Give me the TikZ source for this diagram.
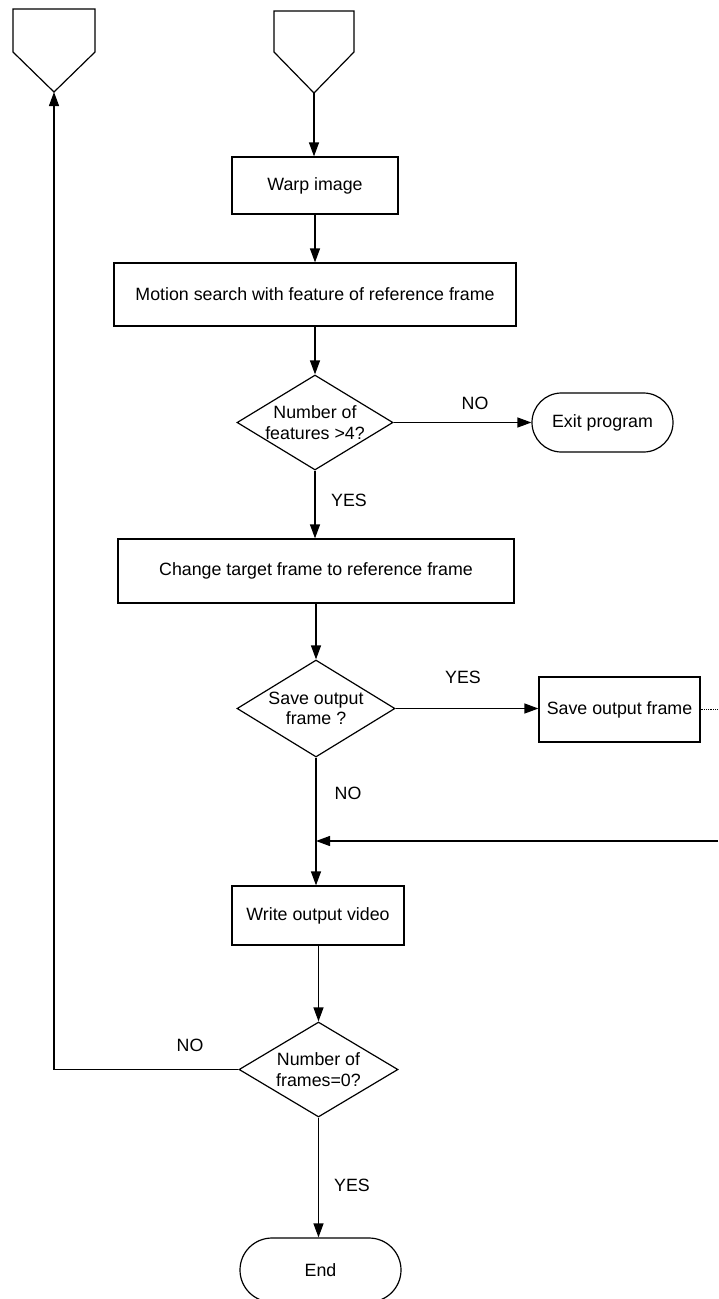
\documentclass[tikz,border=0pt]{standalone}
\usepackage{fontspec}
\setmainfont{Liberation Sans}
\usetikzlibrary{arrows.meta,shapes.geometric}
\begin{document}
\begin{tikzpicture}[x=1pt,y=-1pt,
  line width=1.2pt,
  every node/.style={font=\fontsize{17.8}{20.5}\selectfont},
  procbox/.style={draw,rectangle,inner sep=0pt,align=center},
  decbox/.style={draw,diamond,inner sep=0pt},
  dtext/.style={align=center,inner sep=0pt,font=\fontsize{17.8}{20.5}\selectfont},
  termbox/.style={draw,rectangle,inner sep=0pt},
  lbl/.style={inner sep=0pt},
  arr/.style={-{Triangle[length=14pt,width=10pt]}},
  offpage/.style={draw}
]
\clip (0,0) rectangle (718,1299);
\fill[white] (0,0) rectangle (718,1299);

% off-page connectors
\draw[offpage] (13,9) -- (95,9) -- (95,52) -- (54,92) -- (13,52) -- cycle;
\coordinate (pL) at (54,92);
\draw[offpage] (274,11) -- (354,11) -- (354,52) -- (314,93) -- (274,52) -- cycle;
\coordinate (pR) at (314,93);

% process nodes
\node[procbox,minimum width=166pt,minimum height=57pt] (warp) at (315,185.5) {Warp image};
\node[procbox,minimum width=402pt,minimum height=63pt] (motion) at (315,294.5) {Motion search with feature of reference frame};
\node[decbox,minimum width=156pt,minimum height=95pt,label={[dtext]center:Number of\\features >4?}] (d1) at (315,422.5) {};
\node[termbox,rounded corners=29.5pt,minimum width=141pt,minimum height=59pt] (exit) at (602.5,422.5) {Exit program};
\node[procbox,minimum width=396pt,minimum height=64pt] (change) at (316,571) {Change target frame to reference frame};
\node[decbox,minimum width=158pt,minimum height=97pt,label={[dtext]center:Save output\\frame ?}] (d2) at (316,708.5) {};
\node[procbox,minimum width=161pt,minimum height=65pt] (save) at (619.5,709.5) {Save output frame};
\node[procbox,minimum width=172pt,minimum height=59pt] (write) at (318,915.5) {Write output video};
\node[decbox,minimum width=159pt,minimum height=95pt,label={[dtext]center:Number of\\frames=0?}] (d3) at (318.5,1069.5) {};
\node[termbox,rounded corners=32pt,minimum width=161pt,minimum height=64pt] (end) at (320.5,1270) {End};

\coordinate (outR) at (718,709.5);
\coordinate (inR) at (718,841);
\coordinate (join) at (316,841);

% connectors
\draw[arr] (pR) -- (warp.north -| pR);
\draw[arr] (warp.south) -- (motion.north -| warp.south);
\draw[arr] (motion.south -| d1.north) -- (d1.north);
\draw[arr] (d1.east) -- (exit.west);
\draw[arr] (d1.south) -- (change.north -| d1.south);
\draw[arr] (change.south -| d2.north) -- (d2.north);
\draw[arr] (d2.east) -- (save.west |- d2.east);
\draw[densely dotted,line width=0.8pt] (save.east) -- (outR);
\draw[arr] (inR) -- (join);
\draw[arr] (d2.south) -- (write.north -| d2.south);
\draw[arr] (write.south -| d3.north) -- (d3.north);
\draw[arr] (d3.west) -- (d3.west -| pL) -- (pL);
\draw[arr] (d3.south) -- (end.north -| d3.south);

% labels
\node[lbl] (lno1) at (475,403) {NO};
\node[lbl] (lyes1) at (349,500) {YES};
\node[lbl] (lyes2) at (463,677) {YES};
\node[lbl] (lno2) at (348,793) {NO};
\node[lbl] (lno3) at (190,1045) {NO};
\node[lbl] (lyes3) at (352,1185) {YES};
\end{tikzpicture}
\end{document}
